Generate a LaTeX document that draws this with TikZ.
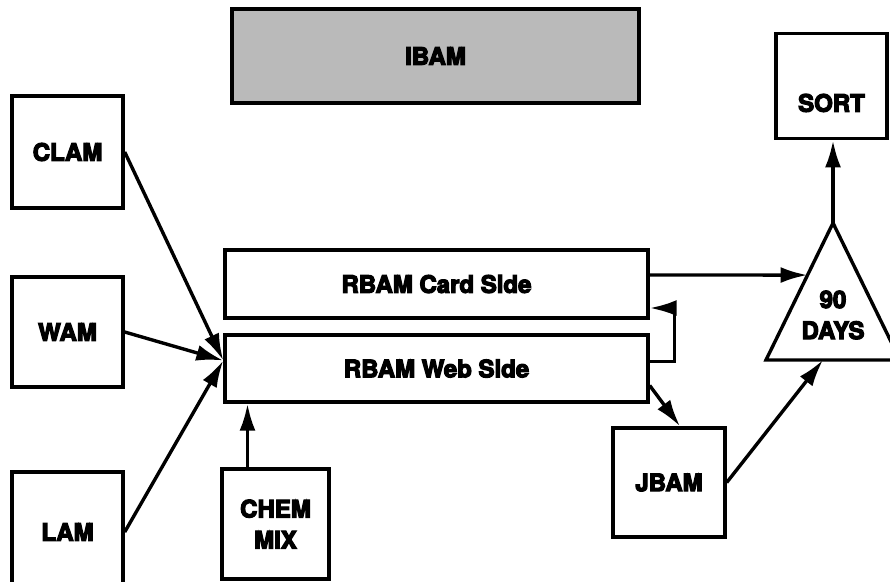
\documentclass[tikz,border=0pt]{standalone}
\usepackage{fontspec}
\setmainfont{TeX Gyre Heros}
\newfontfamily\heavyfont{texgyreheros-bold.otf}[FakeBold=5]
\usepackage{tikz}
\usetikzlibrary{arrows.meta,calc}

\begin{document}
\begin{tikzpicture}[x=1pt,y=-1pt,line width=3.4pt,
  flow/.style={-{Latex[length=27pt,width=16pt]}},
  box node/.style={rectangle,draw,fill=white,inner sep=0pt,align=center,
    font=\fontsize{24}{31}\heavyfont},
  side node/.style={box node,minimum width=423pt},
  shade node/.style={box node,fill=black!27}]

  \useasboundingbox (0,0) rectangle (890,581);

  \node[shade node,minimum width=407pt,minimum height=94pt] (ibam) at (435.5,56) {IBAM};
  \node[box node,anchor=north,minimum width=111pt,text height=78pt,text depth=27pt] (sort) at (831.5,32) {SORT};

  \node[box node,minimum width=111pt,minimum height=112pt] (clam) at (67.5,152) {CLAM};
  \node[box node,minimum width=111pt,minimum height=110pt] (wam) at (67.5,332) {WAM};
  \node[box node,minimum width=111pt,minimum height=120pt] (lam) at (67.5,532) {LAM};
  \node[box node,minimum width=107pt,minimum height=110pt] (chem) at (275.5,524) {CHEM\\MIX};
  \node[box node,minimum width=112pt,minimum height=109pt] (jbam) at (669,482.5) {JBAM};

  \node[side node,minimum height=68pt] (card) at (436.5,284) {RBAM Card Side};
  \node[side node,minimum height=67pt] (web) at (436.5,368.5) {RBAM Web Side};

  % 90 days triangle
  \coordinate (apex) at (833,223);
  \coordinate (bl) at (766,360);
  \coordinate (br) at (900,360);
  \draw (apex) -- (bl) -- (br) -- cycle;
  \node[box node,draw=none,fill=none] (days) at (833,315) {90\\DAYS};

  \coordinate (hub) at ([yshift=8pt]web.west);
  \coordinate (tl) at ($(apex)!0.38!(bl)$);
  \coordinate (tb) at ($(bl)!0.425!(br)$);
  \coordinate (chemtop) at ([xshift=-28pt]chem.north);

  \path[every edge/.style={draw,flow}]
    (clam.east) edge (hub)
    (wam.east) edge (hub)
    (lam.east) edge (hub)
    (chemtop) edge (chemtop |- web.south)
    ([yshift=9pt]card.east) edge (tl)
    ([yshift=-17pt]web.east) edge ([xshift=11pt]jbam.north)
    (jbam.east) edge (tb)
    (apex) edge (apex |- sort.south)
    ;

  \draw[flow] ([yshift=7pt]web.east) -- ++(25,0) |- ([yshift=-24pt]card.east);

\end{tikzpicture}
\end{document}
